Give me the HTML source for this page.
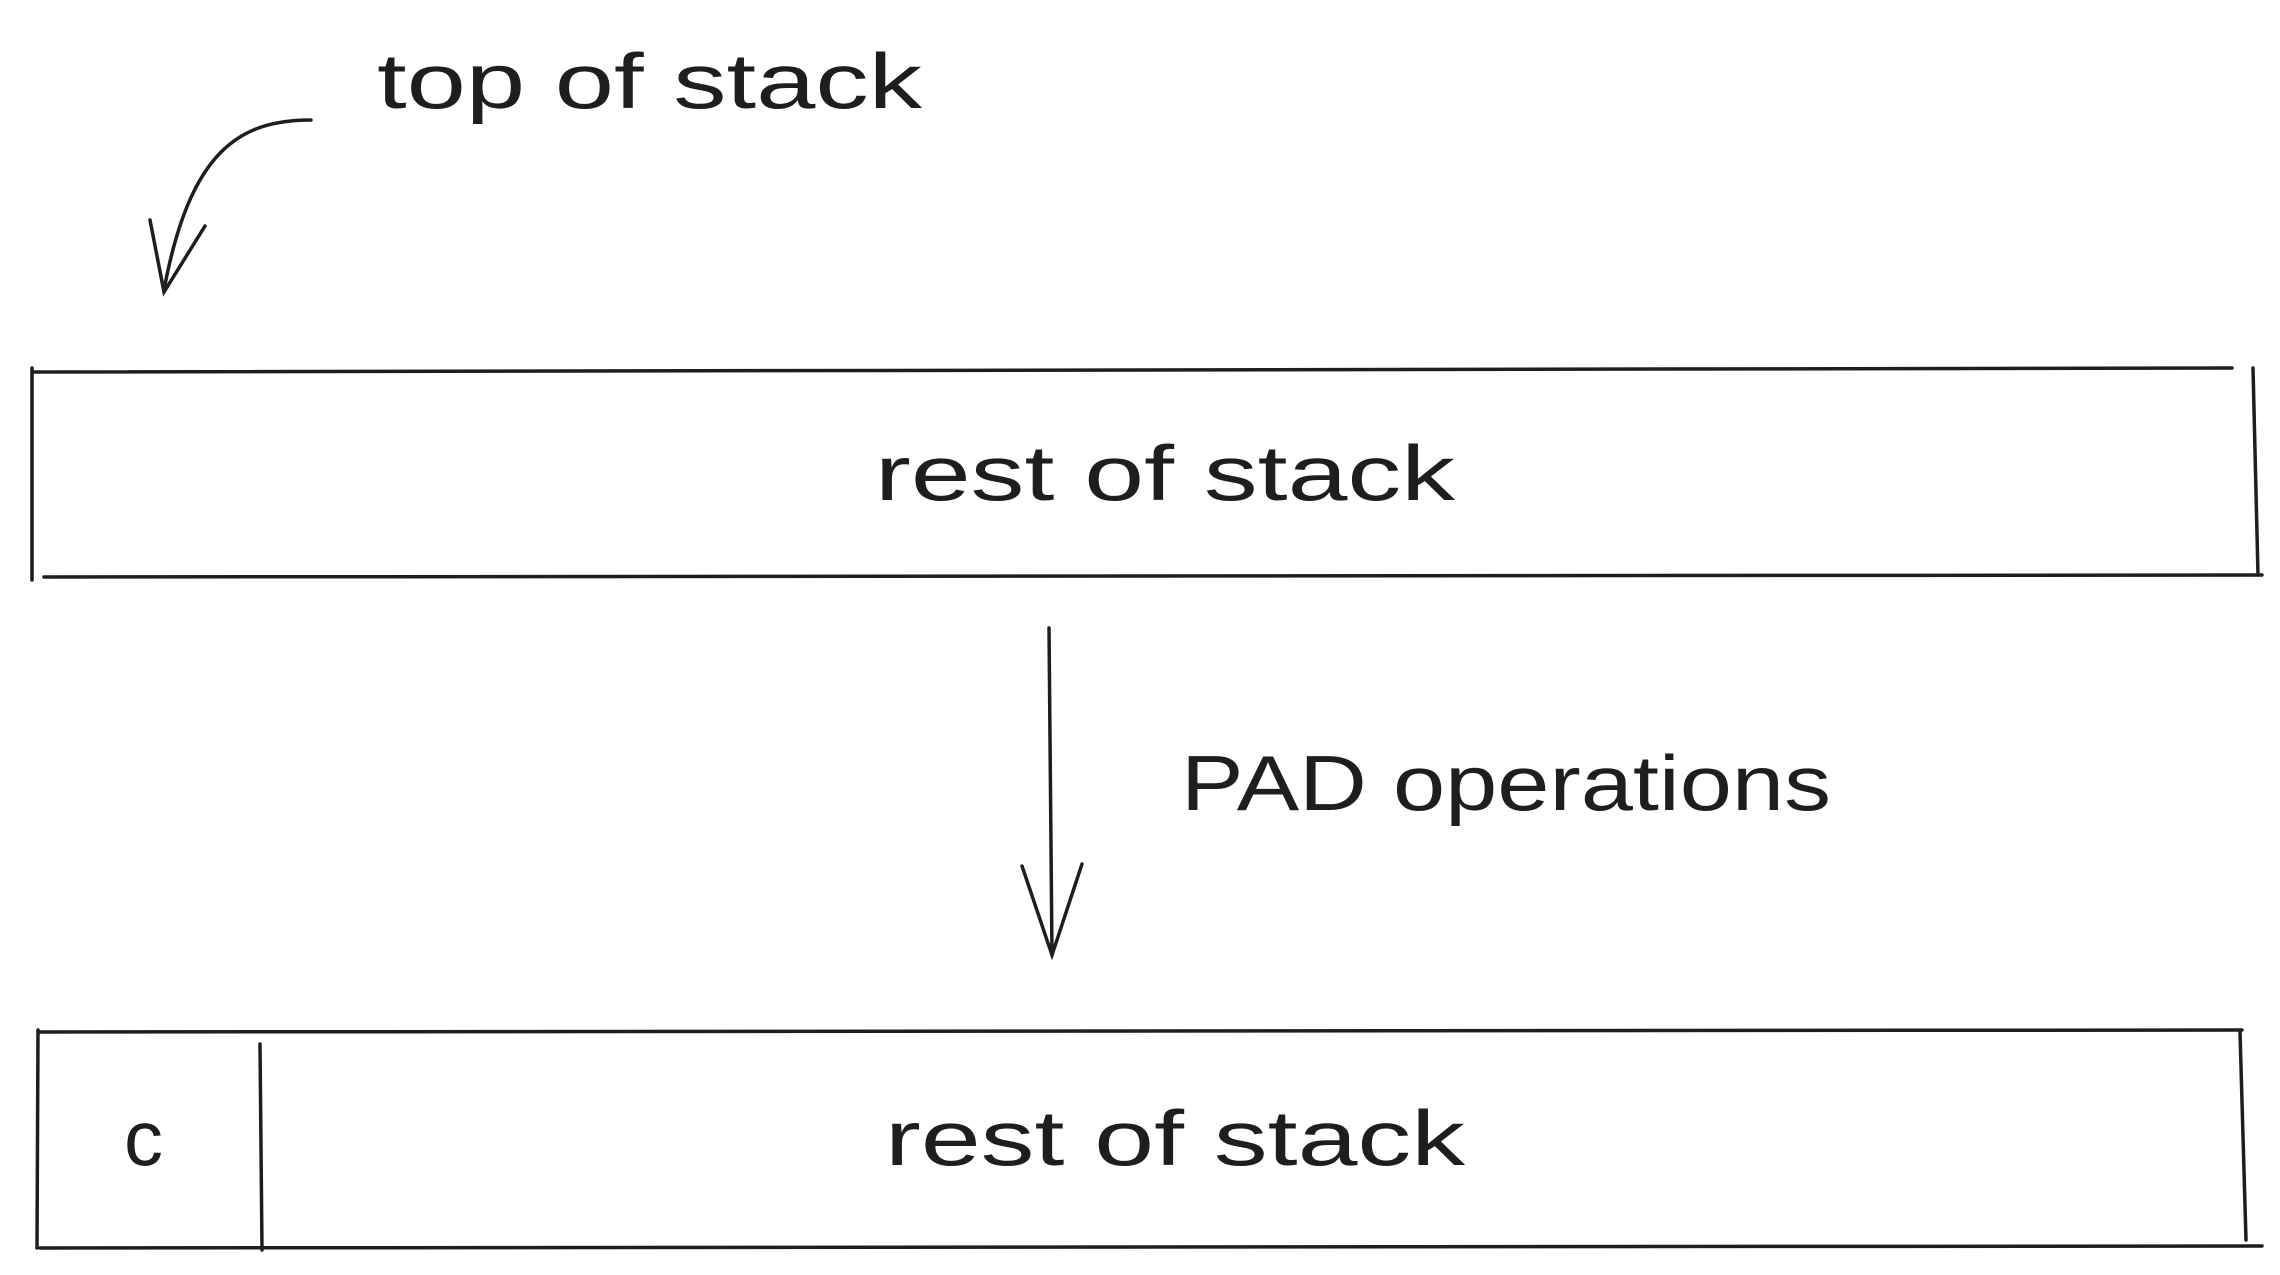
<!DOCTYPE html>
<html><head><meta charset="utf-8"><style>
html,body{margin:0;padding:0;background:#fff;}
svg{display:block;}
text{font-family:"Liberation Sans",sans-serif;fill:#1e1e1e;}
</style></head><body>
<svg width="2280" height="1275" viewBox="0 0 2280 1275" xmlns="http://www.w3.org/2000/svg">
<g fill="none" stroke="#1e1e1e" stroke-width="3.5" stroke-linecap="round">
<!-- top rect -->
<path d="M34 372 L2232 368"/>
<path d="M44 577 L2262 575"/>
<path d="M32 368 L32 580"/>
<path d="M2253 368 L2258 575"/>
<!-- bottom rect -->
<path d="M40 1032 L2242 1030"/>
<path d="M40 1248 L2262 1246"/>
<path d="M38 1030 L37 1248"/>
<path d="M2240 1032 L2246 1240"/>
<path d="M260 1044 L262 1250"/>
<!-- down arrow -->
<path d="M1049 628 L1052 955"/>
<path d="M1022 866 L1052 955 L1082 864"/>
<!-- curved arrow -->
<path d="M311 120 C240 120 190 150 164 290"/>
<path d="M150 220 L164 292 L205 226"/>
</g>
<text x="377" y="108" font-size="78" textLength="545" lengthAdjust="spacingAndGlyphs">top of stack</text>
<text x="875" y="500" font-size="78" textLength="580" lengthAdjust="spacingAndGlyphs">rest of stack</text>
<text x="1181" y="810" font-size="78" textLength="650" lengthAdjust="spacingAndGlyphs">PAD operations</text>
<text x="885" y="1165" font-size="78" textLength="580" lengthAdjust="spacingAndGlyphs">rest of stack</text>
<text x="124" y="1165" font-size="78">c</text>
</svg>
</body></html>
